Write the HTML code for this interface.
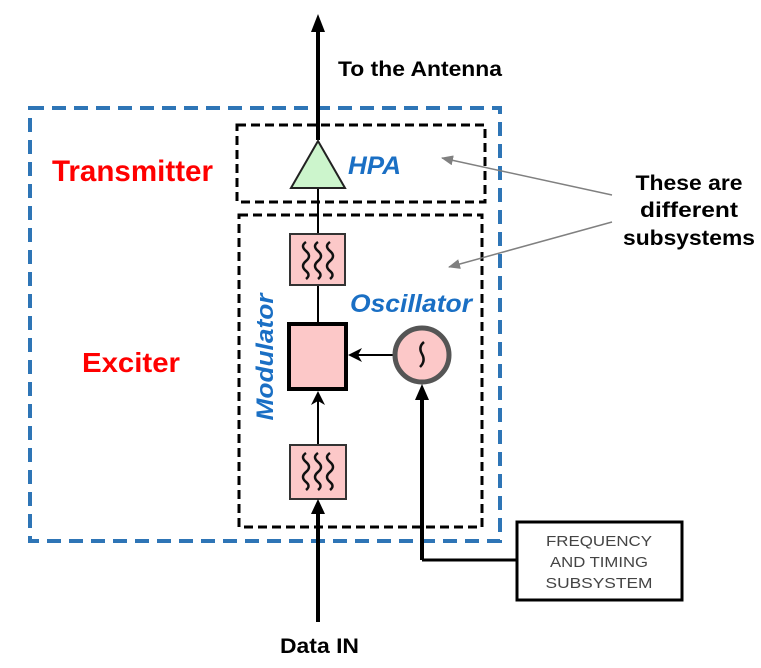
<!DOCTYPE html>
<html><head><meta charset="utf-8"><style>
html,body{margin:0;padding:0;background:#fff;}
svg{display:block;}
text{font-family:"Liberation Sans",Arial,sans-serif;font-weight:bold;}
</style></head><body>
<svg width="761" height="668" viewBox="0 0 761 668" xmlns="http://www.w3.org/2000/svg">
<defs>
<marker id="ga" markerWidth="12" markerHeight="10" refX="11" refY="5" orient="auto" markerUnits="userSpaceOnUse">
<path d="M0,0 L12,5 L0,10 Z" fill="#808080"/></marker>
</defs>
<rect x="30" y="108" width="470" height="433" fill="none" stroke="#2e75b6" stroke-width="4" stroke-dasharray="14,8"/>
<rect x="237" y="125" width="248" height="77" fill="none" stroke="#000" stroke-width="3" stroke-dasharray="9,5"/>
<rect x="239" y="215" width="243" height="312" fill="none" stroke="#000" stroke-width="3" stroke-dasharray="9,5"/>
<line x1="318" y1="140" x2="318" y2="30" stroke="#000" stroke-width="4"/>
<path d="M318,14 L311,32 L325,32 Z" fill="#000"/>
<line x1="318" y1="188" x2="318" y2="322" stroke="#000" stroke-width="2"/>
<path d="M318,141 L291,188 L345,188 Z" fill="#ccf5cc" stroke="#222" stroke-width="2"/>
<rect x="290" y="234" width="55" height="51" fill="#fcc8c8" stroke="#333" stroke-width="2"/>
<g fill="none" stroke="#111" stroke-width="2.5">
<path d="M306,242 q-6,4 0,9 q6,5 0,10 q-6,5 0,10 q5,4 0,8"/>
<path d="M318,242 q-6,4 0,9 q6,5 0,10 q-6,5 0,10 q5,4 0,8"/>
<path d="M330,242 q-6,4 0,9 q6,5 0,10 q-6,5 0,10 q5,4 0,8"/>
</g>
<rect x="289" y="324" width="57" height="65" fill="#fcc8c8" stroke="#000" stroke-width="4"/>
<line x1="394" y1="355" x2="356" y2="355" stroke="#000" stroke-width="2"/>
<path d="M348,355 L362,348 L358,355 L362,362 Z" fill="#000"/>
<circle cx="422" cy="355" r="27" fill="#fcc8c8" stroke="#555" stroke-width="5"/>
<path d="M424,342 q-6,5 -2,12 q4,7 -2,13" fill="none" stroke="#111" stroke-width="2.5"/>
<line x1="318" y1="445" x2="318" y2="398" stroke="#000" stroke-width="2"/>
<path d="M318,391 L311,405 L318,401 L325,405 Z" fill="#000"/>
<rect x="290" y="445" width="56" height="54" fill="#fcc8c8" stroke="#333" stroke-width="2"/>
<g fill="none" stroke="#111" stroke-width="2.5">
<path d="M306,453 q-6,4 0,9 q6,5 0,10 q-6,5 0,10 q5,4 0,8"/>
<path d="M318,453 q-6,4 0,9 q6,5 0,10 q-6,5 0,10 q5,4 0,8"/>
<path d="M330,453 q-6,4 0,9 q6,5 0,10 q-6,5 0,10 q5,4 0,8"/>
</g>
<line x1="318" y1="622" x2="318" y2="512" stroke="#000" stroke-width="4"/>
<path d="M318,499 L311,514 L325,514 Z" fill="#000"/>
<path d="M422,560 L422,398" fill="none" stroke="#000" stroke-width="4"/>
<path d="M422,384 L415,400 L429,400 Z" fill="#000"/>
<line x1="422" y1="560" x2="517" y2="560" stroke="#000" stroke-width="3"/>
<rect x="517" y="522" width="165" height="78" fill="#fff" stroke="#000" stroke-width="3"/>
<g font-size="15" fill="#444" text-anchor="middle">
<text x="599" y="546" style="font-weight:normal" textLength="106" lengthAdjust="spacingAndGlyphs">FREQUENCY</text>
<text x="599" y="567" style="font-weight:normal" textLength="98" lengthAdjust="spacingAndGlyphs">AND TIMING</text>
<text x="599" y="588" style="font-weight:normal" textLength="107" lengthAdjust="spacingAndGlyphs">SUBSYSTEM</text>
</g>
<line x1="612" y1="195" x2="442" y2="158" stroke="#808080" stroke-width="1.5" marker-end="url(#ga)"/>
<line x1="612" y1="222" x2="449" y2="267" stroke="#808080" stroke-width="1.5" marker-end="url(#ga)"/>
<text x="338" y="76" font-size="21" fill="#000" textLength="164" lengthAdjust="spacingAndGlyphs">To the Antenna</text>
<text x="52" y="181" font-size="30" fill="#ff0000" textLength="161" lengthAdjust="spacingAndGlyphs">Transmitter</text>
<text x="82" y="372" font-size="28" fill="#ff0000" textLength="98" lengthAdjust="spacingAndGlyphs">Exciter</text>
<text x="348" y="174" font-size="25" fill="#1a6fc4" font-style="italic" textLength="53" lengthAdjust="spacingAndGlyphs">HPA</text>
<text x="350" y="312" font-size="25" fill="#1a6fc4" font-style="italic" textLength="122" lengthAdjust="spacingAndGlyphs">Oscillator</text>
<text transform="translate(273,357) rotate(-90)" text-anchor="middle" font-size="24" fill="#1a6fc4" font-style="italic" textLength="127" lengthAdjust="spacingAndGlyphs">Modulator</text>
<g font-size="21" fill="#000" text-anchor="middle">
<text x="689" y="190" textLength="107" lengthAdjust="spacingAndGlyphs">These are</text>
<text x="689" y="217" textLength="98" lengthAdjust="spacingAndGlyphs">different</text>
<text x="689" y="245" textLength="132" lengthAdjust="spacingAndGlyphs">subsystems</text>
</g>
<text x="280" y="653" font-size="21" fill="#000" textLength="79" lengthAdjust="spacingAndGlyphs">Data IN</text>
</svg>
</body></html>
